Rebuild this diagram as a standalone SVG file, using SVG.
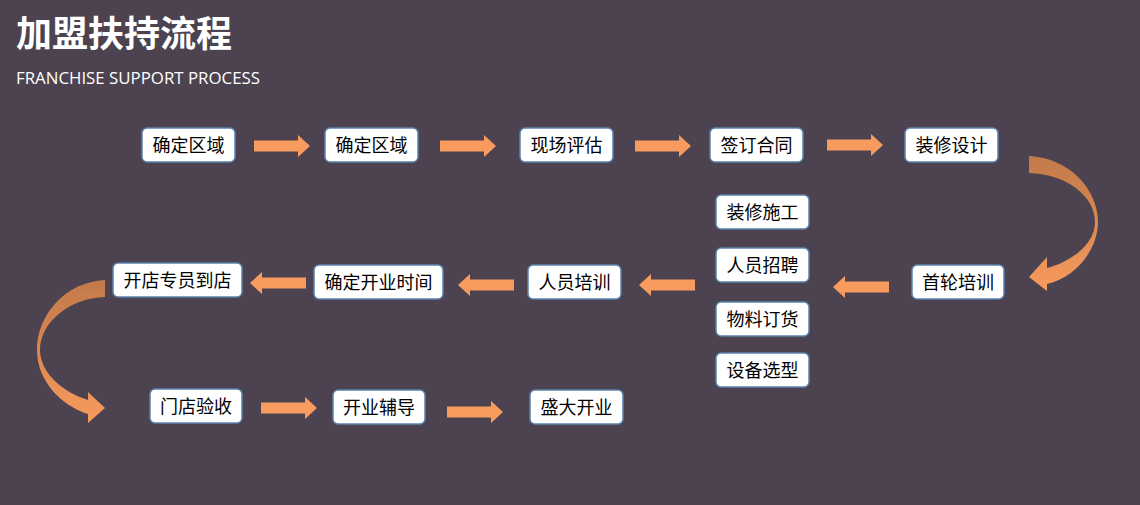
<svg xmlns="http://www.w3.org/2000/svg" xmlns:xlink="http://www.w3.org/1999/xlink" width="1140" height="505" viewBox="0 0 1140 505">
<style>
.bx{fill:#ffffff;stroke:#5b82ad;stroke-width:1.5}
.t{font-family:"Noto Sans CJK SC","Microsoft YaHei",sans-serif;font-size:18px;fill:#000000;text-anchor:middle}
.ar{fill:#f89b5e}
</style>
<defs>
<polygon id="ra" points="0,-5.5 44,-5.5 44,-11 56,0 44,11 44,5.5 0,5.5"/>
<polygon id="la" points="56,-5.5 12,-5.5 12,-11 0,0 12,11 12,5.5 56,5.5"/>
<linearGradient id="cg" x1="0" y1="0" x2="0" y2="1">
<stop offset="0" stop-color="#c27a4b"/>
<stop offset="0.45" stop-color="#d8874f"/>
<stop offset="1" stop-color="#f89b5e"/>
</linearGradient>
</defs>
<rect x="0" y="0" width="1140" height="505" fill="#4d4350"/>
<g id="title">
<text x="16" y="47" font-family="Noto Sans CJK SC,sans-serif" font-size="36" font-weight="bold" fill="#ffffff">加盟扶持流程</text>
<text x="16" y="84" font-family="Open Sans,Noto Sans,sans-serif" font-size="17" fill="#ffffff" textLength="244" lengthAdjust="spacingAndGlyphs">FRANCHISE SUPPORT PROCESS</text>
</g>
<g id="connectors" class="ar">
<use xlink:href="#ra" x="254" y="146"/>
<use xlink:href="#ra" x="440" y="146"/>
<use xlink:href="#ra" x="635" y="146"/>
<use xlink:href="#ra" x="827" y="145"/>
<use xlink:href="#la" x="833" y="287"/>
<use xlink:href="#la" x="639" y="285"/>
<use xlink:href="#la" x="458" y="285"/>
<use xlink:href="#la" x="250" y="283"/>
<use xlink:href="#ra" x="261" y="408"/>
<use xlink:href="#ra" x="447" y="412"/>
<path fill="url(#cg)" d="M1029,156 C1070,158 1098,190 1098,222 C1098,250 1075,278 1047,284 L1047,291 L1029,277 L1047,257 L1047,268 C1070,262 1095,245 1095,222 C1095,195 1065,174 1029,173 Z"/>
<path fill="url(#cg)" d="M105,280 C65,282 37,315 37,350 C37,380 60,405 88,414 L88,423 L105,408 L88,392 L88,400 C62,392 40,372 40,350 C40,322 70,298 105,297 Z"/>
</g>
<g id="n1"><rect class="bx" x="142" y="128" width="93" height="34" rx="5"/><text class="t" x="188.5" y="151.5">确定区域</text></g>
<g id="n2"><rect class="bx" x="325" y="128" width="93" height="34" rx="5"/><text class="t" x="371.5" y="151.5">确定区域</text></g>
<g id="n3"><rect class="bx" x="520" y="128" width="93" height="34" rx="5"/><text class="t" x="566.5" y="151.5">现场评估</text></g>
<g id="n4"><rect class="bx" x="710" y="128" width="93" height="34" rx="5"/><text class="t" x="756.5" y="151.5">签订合同</text></g>
<g id="n5"><rect class="bx" x="905" y="128" width="93" height="34" rx="5"/><text class="t" x="951.5" y="151.5">装修设计</text></g>
<g id="n6"><rect class="bx" x="912" y="265" width="92" height="34" rx="5"/><text class="t" x="958" y="288.5">首轮培训</text></g>
<g id="n7"><rect class="bx" x="716" y="195" width="93" height="34" rx="5"/><text class="t" x="762.5" y="218.5">装修施工</text></g>
<g id="n8"><rect class="bx" x="716" y="248" width="93" height="34" rx="5"/><text class="t" x="762.5" y="271.5">人员招聘</text></g>
<g id="n9"><rect class="bx" x="716" y="302" width="93" height="34" rx="5"/><text class="t" x="762.5" y="325.5">物料订货</text></g>
<g id="n10"><rect class="bx" x="716" y="353" width="93" height="34" rx="5"/><text class="t" x="762.5" y="376.5">设备选型</text></g>
<g id="n11"><rect class="bx" x="528" y="265" width="93" height="34" rx="5"/><text class="t" x="574.5" y="288.5">人员培训</text></g>
<g id="n12"><rect class="bx" x="314" y="265" width="129" height="34" rx="5"/><text class="t" x="378.5" y="288.5">确定开业时间</text></g>
<g id="n13"><rect class="bx" x="113" y="263" width="129" height="34" rx="5"/><text class="t" x="177.5" y="286.5">开店专员到店</text></g>
<g id="n14"><rect class="bx" x="150" y="389" width="92" height="34" rx="5"/><text class="t" x="196" y="412.5">门店验收</text></g>
<g id="n15"><rect class="bx" x="333" y="390" width="92" height="34" rx="5"/><text class="t" x="379" y="413.5">开业辅导</text></g>
<g id="n16"><rect class="bx" x="530" y="390" width="93" height="34" rx="5"/><text class="t" x="576.5" y="413.5">盛大开业</text></g>
</svg>
